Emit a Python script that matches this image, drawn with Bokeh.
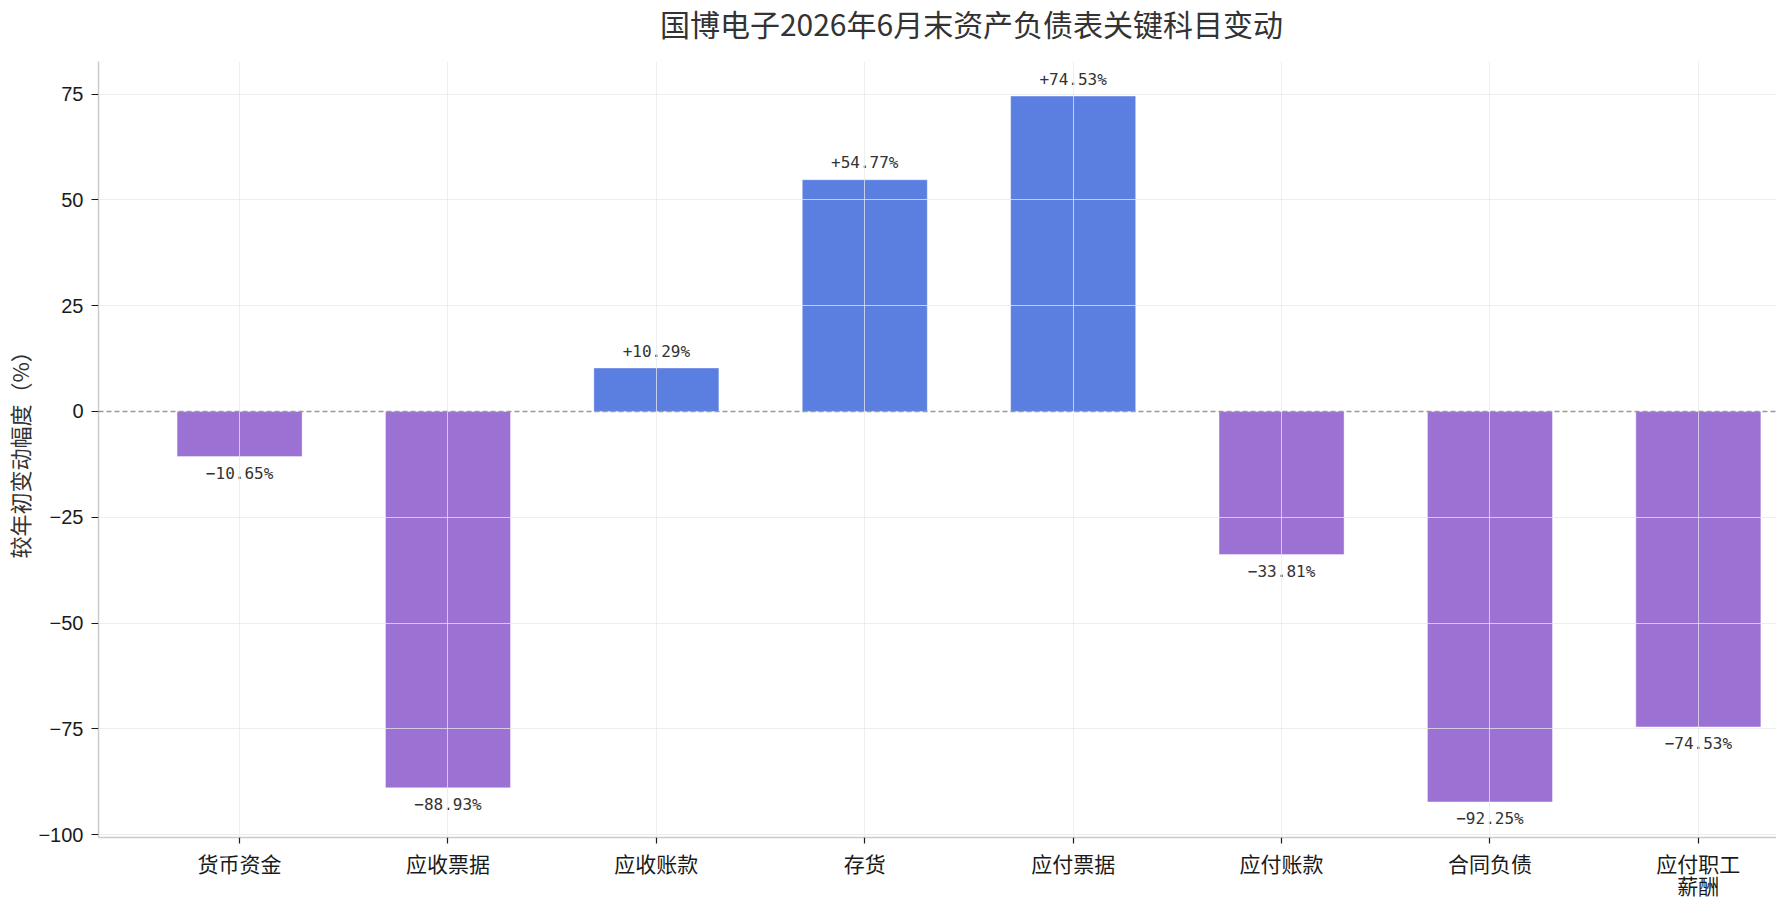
from bokeh.plotting import figure
from bokeh.layouts import column
from bokeh.models import Range1d, FixedTicker, Span, ColumnDataSource
from bokeh.embed import file_html
from bokeh.resources import INLINE
from bokeh.core.properties import value

# ---- data ----
categories = ["货币资金", "应收票据", "应收账款", "存货", "应付票据", "应付账款", "合同负债", "应付职工薪酬"]
tick_labels = ["货币资金", "应收票据", "应收账款", "存货", "应付票据", "应付账款", "合同负债", "应付职工\n薪酬"]
changes = [-10.65, -88.93, 10.29, 54.77, 74.53, -33.81, -92.25, -74.53]
y_ticks = [-100, -75, -50, -25, 0, 25, 50, 75]

TITLE = "国博电子2026年6月末资产负债表关键科目变动"
YLABEL = "较年初变动幅度（%）"

POS_COLOR = "#5b7fe1"
NEG_COLOR = "#9b71d4"

W = 1776
TITLE_H = 44
MAIN_H = 858
FRAME_LEFT = 98

xs = list(range(len(categories)))
colors = [POS_COLOR if v >= 0 else NEG_COLOR for v in changes]
labels = [f"{v:+.2f}%".replace("-", "\u2212") for v in changes]
label_y = [v + 4.0 if v >= 0 else v - 4.0 for v in changes]

src = ColumnDataSource(dict(x=xs, top=changes, color=colors, label=labels, ly=label_y))

# ---- title strip (its frame is aligned with the chart's frame by the column) ----
t = figure(width=W, height=TITLE_H, output_backend="svg", toolbar_location=None,
           x_range=Range1d(FRAME_LEFT, W), y_range=Range1d(0, TITLE_H),
           x_axis_type=None, y_axis_type=None, min_border=0)
t.outline_line_color = None
t.grid.visible = False
t.text(x=[971], y=[TITLE_H - 22], text=[TITLE], text_align="center", text_baseline="middle",
       text_font=value("Noto Sans CJK SC"), text_font_size="30px", text_color="#333333")

# ---- main chart ----
p = figure(width=W, height=MAIN_H, output_backend="svg", toolbar_location=None,
           x_range=Range1d(-0.677, 7.375), y_range=Range1d(-100.66, 82.7),
           min_border_left=FRAME_LEFT, min_border_right=0, min_border_top=17, min_border_bottom=65)
p.outline_line_color = None
p.background_fill_color = "white"

p.vbar(x="x", top="top", bottom=0, width=0.6, fill_color="color",
       line_color="white", line_alpha=0.5, line_width=0.8, source=src)

p.text(x="x", y="ly", text="label", text_align="center", text_baseline="middle",
       text_font=value("DejaVu Sans Mono"), text_font_size="16px",
       text_color="#333333", source=src)

# grids (drawn above bars, as in the reference)
p.xgrid.ticker = FixedTicker(ticks=xs)
p.ygrid.ticker = FixedTicker(ticks=[t_ for t_ in y_ticks if t_ != 0])
for g in (p.xgrid, p.ygrid):
    g.grid_line_color = "#e8e8e8"
    g.grid_line_alpha = 0.75
    g.grid_line_width = 1
    g.level = "overlay"

zero = Span(location=0, dimension="width", line_color="#999999",
            line_dash="5 3", line_width=1.5)
zero.level = "overlay"
p.add_layout(zero)

# axes
p.xaxis.ticker = FixedTicker(ticks=xs)
p.xaxis.major_label_overrides = {i: lab for i, lab in enumerate(tick_labels)}
p.yaxis.ticker = FixedTicker(ticks=y_ticks)
p.yaxis.major_label_overrides = {t_: str(t_).replace("-", "\u2212") for t_ in y_ticks}

for ax in (p.xaxis, p.yaxis):
    ax.axis_line_color = "#cccccc"
    ax.axis_line_width = 1.5
    ax.major_tick_line_color = "#1a1a1a"
    ax.major_tick_line_width = 1.2
    ax.major_tick_in = 0
    ax.minor_tick_line_color = None
    ax.major_label_text_color = "#1a1a1a"

p.xaxis.major_tick_out = 6
p.yaxis.major_tick_out = 7
p.xaxis.major_label_text_font = "Noto Sans CJK SC"
p.xaxis.major_label_text_font_size = "21px"
p.xaxis.major_label_text_line_height = 0.74
p.xaxis.major_label_standoff = 4
p.yaxis.major_label_text_font = "Liberation Sans"
p.yaxis.major_label_text_font_size = "20px"
p.yaxis.major_label_standoff = 8

p.yaxis.axis_label = YLABEL
p.yaxis.axis_label_text_font = "Noto Sans CJK SC"
p.yaxis.axis_label_text_font_size = "22px"
p.yaxis.axis_label_text_font_style = "normal"
p.yaxis.axis_label_text_color = "#333333"
p.yaxis.axis_label_standoff = 0

layout = column(t, p, spacing=0)

open("out.html", "w").write(file_html(layout, INLINE))
